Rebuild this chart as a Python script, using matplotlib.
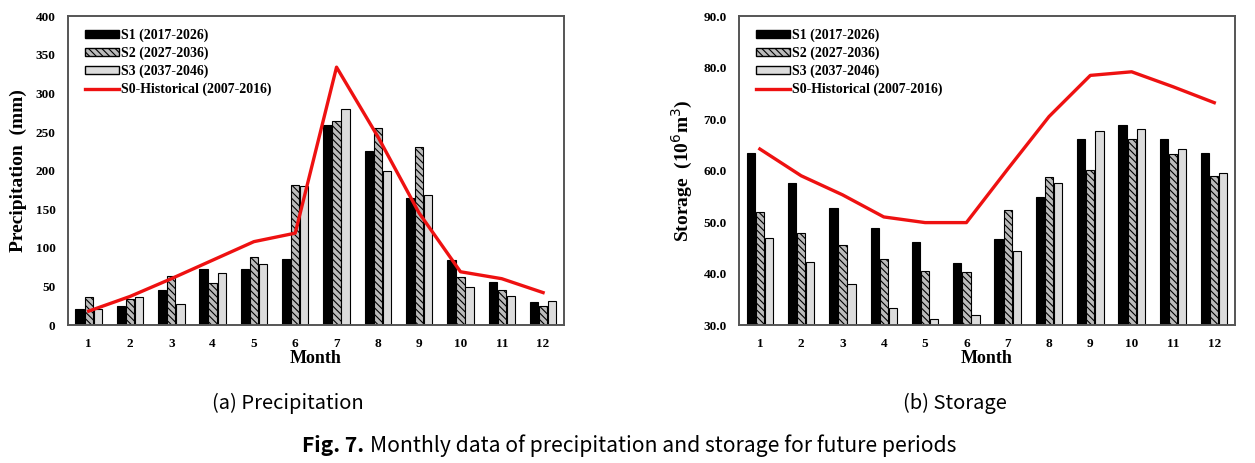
import numpy as np
import matplotlib.pyplot as plt
from matplotlib.lines import Line2D
from matplotlib.patches import Patch

# Monthly data
months = np.arange(1, 13)
month_labels = [str(m) for m in months]

precip_s1 = [21, 24, 46, 72, 73, 85, 259, 226, 164, 84, 56, 30]
precip_s2 = [36, 34, 63, 55, 88, 181, 264, 255, 230, 62, 45, 25]
precip_s3 = [21, 36, 27, 68, 79, 180, 280, 199, 168, 49, 38, 31]
precip_hist = [18, 37, 60, 84, 108, 119, 334, 244, 145, 69, 60, 42]

storage_s1 = [63.5, 57.5, 52.8, 48.8, 46.1, 42.1, 46.7, 54.9, 66.1, 68.8, 66.2, 63.5]
storage_s2 = [52.0, 47.8, 45.5, 42.9, 40.4, 40.3, 52.3, 58.7, 60.2, 66.1, 63.3, 58.9]
storage_s3 = [47.0, 42.2, 37.9, 33.4, 31.2, 31.9, 44.4, 57.6, 67.7, 68.1, 64.2, 59.6]
storage_hist = [64.2, 59.0, 55.3, 51.0, 49.9, 49.9, 60.3, 70.5, 78.5, 79.2, 76.3, 73.2]

series_names = ['S1 (2017-2026)', 'S2 (2027-2036)', 'S3 (2037-2046)',
                'S0-Historical (2007-2016)']

plt.rcParams['hatch.linewidth'] = 0.8
serif = 'Liberation Serif'

fig = plt.figure(figsize=(12.55, 4.63), dpi=100)
ax1 = fig.add_axes([0.0542, 0.298, 0.395, 0.667])
ax2 = fig.add_axes([0.589, 0.298, 0.395, 0.667])


def draw(ax, s1, s2, s3, hist, ylim, yticks, yfmt, ylabel):
    w = 0.2
    ax.bar(months - 0.22, s1, w, color='black', edgecolor='black', linewidth=0.8)
    ax.bar(months, s2, w, color='#bbbbbb', edgecolor='black', hatch='\\\\\\\\\\', linewidth=0.8)
    ax.bar(months + 0.22, s3, w, color='#dcdcdc', edgecolor='black', linewidth=0.8)
    ax.plot(months, hist, color='#ee1111', linewidth=2.4)
    ax.set_xlim(0.5, 12.5)
    ax.set_ylim(*ylim)
    ax.set_xticks(months)
    ax.set_xticklabels(month_labels)
    ax.set_yticks(yticks)
    ax.set_yticklabels([yfmt.format(v) for v in yticks])
    ax.tick_params(length=0, pad=9)
    for lab in ax.get_xticklabels() + ax.get_yticklabels():
        lab.set_fontfamily(serif)
        lab.set_fontweight('bold')
        lab.set_fontsize(9.5)
    ax.set_xlabel('Month', fontfamily=serif, fontweight='bold', fontsize=13, labelpad=0)
    ax.set_ylabel(ylabel, fontfamily=serif, fontweight='bold', fontsize=14, labelpad=6)
    for sp in ax.spines.values():
        sp.set_color('#555555')
        sp.set_linewidth(1.4)

    handles = [
        Patch(facecolor='black', edgecolor='black'),
        Patch(facecolor='#bbbbbb', edgecolor='black', hatch='\\\\\\\\\\'),
        Patch(facecolor='#dcdcdc', edgecolor='black'),
        Line2D([], [], color='#ee1111', linewidth=2.4),
    ]
    ax.legend(handles, series_names, loc='upper left', frameon=False,
              prop={'family': serif, 'weight': 'bold', 'size': 10},
              handlelength=2.4, handleheight=0.5, handletextpad=0.2,
              labelspacing=0.32, borderaxespad=0.3, bbox_to_anchor=(0.015, 0.99))


draw(ax1, precip_s1, precip_s2, precip_s3, precip_hist,
     (0, 400), np.arange(0, 401, 50), '{:d}', 'Precipitation  (mm)')
draw(ax2, storage_s1, storage_s2, storage_s3, storage_hist,
     (30, 90), np.arange(30, 91, 10), '{:.1f}', 'Storage  (10$^6$m$^3$)')

# Captions
cap_font = 'Noto Sans CJK KR'
fig.text(0.229, 0.128, '(a) Precipitation', ha='center', va='center',
         fontfamily=cap_font, fontsize=14.5)
fig.text(0.761, 0.128, '(b) Storage', ha='center', va='center',
         fontfamily=cap_font, fontsize=14.5)
t1 = fig.text(0.241, 0.038, 'Fig. 7.', ha='left', va='center',
              fontfamily=cap_font, fontsize=15.2, fontweight='bold')
renderer = fig.canvas.get_renderer()
bb = t1.get_window_extent(renderer)
x_next = (bb.x1 + 5) / fig.bbox.width
fig.text(x_next, 0.038, 'Monthly data of precipitation and storage for future periods',
         ha='left', va='center', fontfamily=cap_font, fontsize=15.2)

fig.savefig('out.png', dpi=100)
